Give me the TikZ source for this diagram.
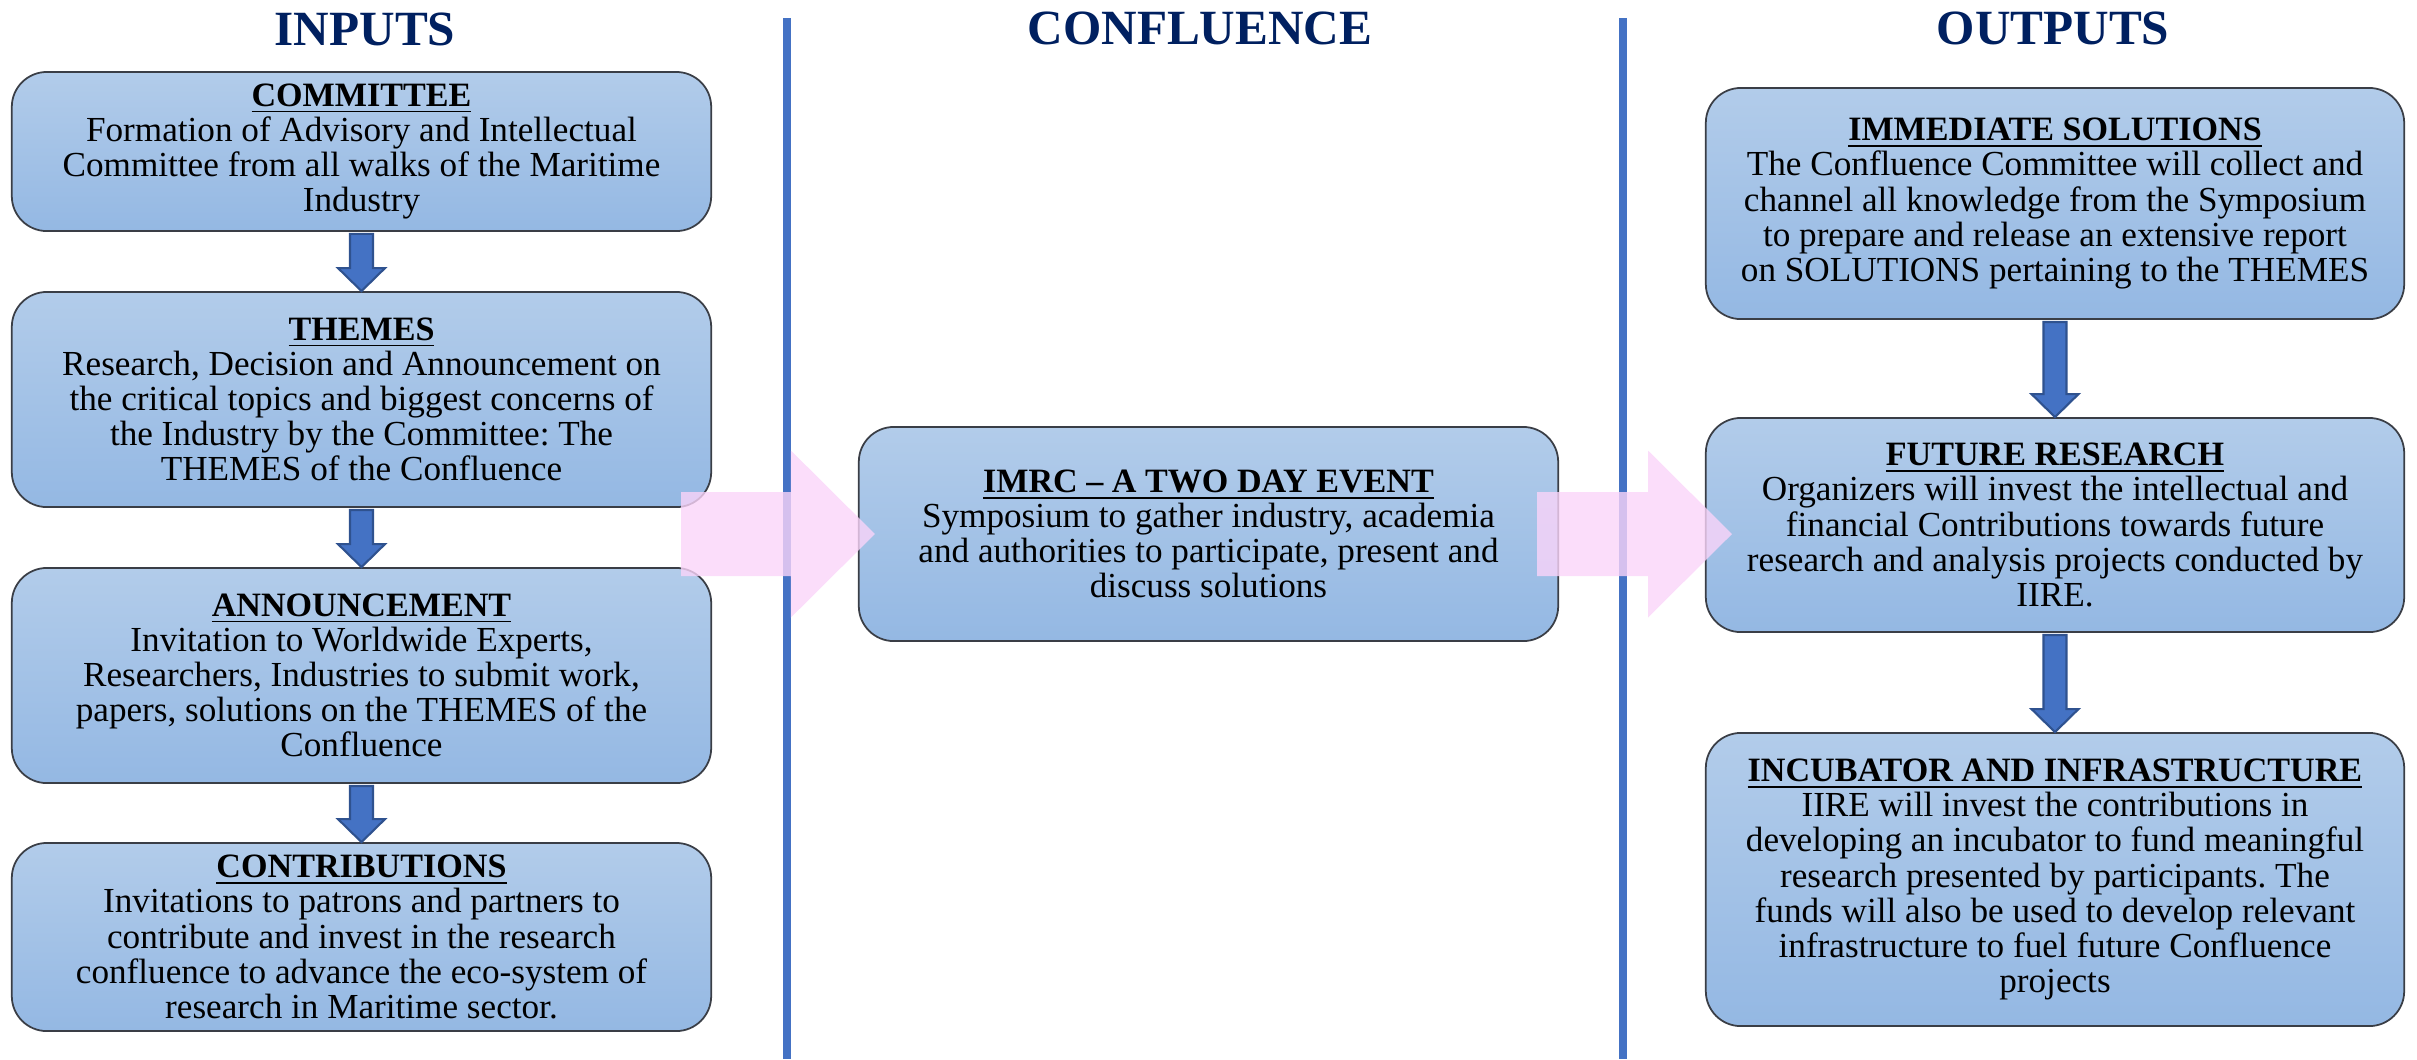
\documentclass[tikz,border=0pt]{standalone}
\usepackage{fontspec}
\setmainfont{Liberation Serif}
\usetikzlibrary{calc}
\frenchspacing
\definecolor{navy}{RGB}{0,32,96}
\definecolor{boxtop}{RGB}{178,204,234}
\definecolor{boxbot}{RGB}{148,184,227}
\definecolor{boxline}{RGB}{58,62,70}
\definecolor{flowblue}{RGB}{68,114,196}
\definecolor{flowedge}{RGB}{47,82,143}
\definecolor{flowpink}{RGB}{250,212,249}
\newcommand{\hd}[1]{{\fontsize{9.7}{10}\selectfont\bfseries\underline{#1}}}
\newcommand{\downflow}[2]{%
  \filldraw[flowblue arrow] ($(#1.south)+(-11.5,2)$) -- ($(#1.south)+(11.5,2)$)
    -- ($(#2.north)+(11.5,-23)$) -- ($(#2.north)+(23.5,-23)$) -- (#2.north)
    -- ($(#2.north)+(-23.5,-23)$) -- ($(#2.north)+(-11.5,-23)$) -- cycle;}
\newcommand{\pinkflow}[2]{%
  \fill[pink arrow] ($(#1)+(0,-42)$) -- ($(#2)+(-84,-42)$) -- ($(#2)+(-84,-83.5)$)
    -- (#2) -- ($(#2)+(-84,83.5)$) -- ($(#2)+(-84,42)$) -- ($(#1)+(0,42)$) -- cycle;}
\tikzset{
  block/.style={draw=boxline, line width=0.5pt, rounded corners=0.35cm,
    top color=boxtop, bottom color=boxbot, align=center, inner sep=0pt,
    minimum width=6.99cm, font=\fontsize{10}{10}\selectfont},
  column title/.style={text=navy, font=\fontsize{14}{16}\selectfont\bfseries},
  divider/.style={draw=flowblue, line width=2pt},
  flowblue arrow/.style={fill=flowblue, draw=flowedge, line width=0.6pt},
  pink arrow/.style={fill=flowpink, fill opacity=0.8}
}
\begin{document}
\begin{tikzpicture}[x=0.01cm, y=-0.01cm]
  \useasboundingbox (0,0) rectangle (2417,1059);

  \node[column title] (inputs) at (365,29) {INPUTS};
  \node[column title] (confluence) at (1200,28) {CONFLUENCE};
  \node[column title] (outputs) at (2053,28) {OUTPUTS};

  \draw[divider] (787,18) -- (787,1059);
  \draw[divider] (1623,18) -- (1623,1059);

  \node[block, minimum height=1.59cm] (committee) at (361.5,151.5)
    {\hd{COMMITTEE}\\ Formation of Advisory and Intellectual\\
     Committee from all walks of the Maritime\\ Industry};
  \node[block, minimum height=2.15cm] (themes) at (361.5,399.5)
    {\hd{THEMES}\\ Research, Decision and Announcement on\\
     the critical topics and biggest concerns of\\
     the Industry by the Committee: The\\ THEMES of the Confluence};
  \node[block, minimum height=2.15cm] (announcement) at (361.5,675.5)
    {\hd{ANNOUNCEMENT}\\ Invitation to Worldwide Experts,\\
     Researchers, Industries to submit work,\\
     papers, solutions on the THEMES of the\\ Confluence};
  \node[block, minimum height=1.88cm] (contributions) at (361.5,937)
    {\hd{CONTRIBUTIONS}\\ Invitations to patrons and partners to\\
     contribute and invest in the research\\
     confluence to advance the eco-system of\\ research in Maritime sector.};

  \node[block, minimum height=2.14cm] (imrc) at (1208.5,534)
    {\hd{IMRC -- A TWO DAY EVENT}\\ Symposium to gather industry, academia\\
     and authorities to participate, present and\\ discuss solutions};

  \node[block, minimum width=6.98cm, minimum height=2.31cm] (solutions) at (2055,203.5)
    {\hd{IMMEDIATE SOLUTIONS}\\ The Confluence Committee will collect and\\
     channel all knowledge from the Symposium\\
     to prepare and release an extensive report\\
     on SOLUTIONS pertaining to the THEMES};
  \node[block, minimum width=6.98cm, minimum height=2.14cm] (research) at (2055,525)
    {\hd{FUTURE RESEARCH}\\ Organizers will invest the intellectual and\\
     financial Contributions towards future\\
     research and analysis projects conducted by\\ IIRE.};
  \node[block, minimum width=6.98cm, minimum height=2.93cm] (incubator) at (2055,879.5)
    {\hd{INCUBATOR AND INFRASTRUCTURE}\\ IIRE will invest the contributions in\\
     developing an incubator to fund meaningful\\
     research presented by participants. The\\
     funds will also be used to develop relevant\\
     infrastructure to fuel future Confluence\\ projects};

  \downflow{committee}{themes}
  \downflow{themes}{announcement}
  \downflow{announcement}{contributions}
  \downflow{solutions}{research}
  \downflow{research}{incubator}

  \coordinate (in start) at (681,534);
  \coordinate (in tip) at ($(imrc.west)+(17,0)$);
  \coordinate (out start) at (1537,534);
  \coordinate (out tip) at (1732,534);
  \pinkflow{in start}{in tip}
  \pinkflow{out start}{out tip}
\end{tikzpicture}
\end{document}
